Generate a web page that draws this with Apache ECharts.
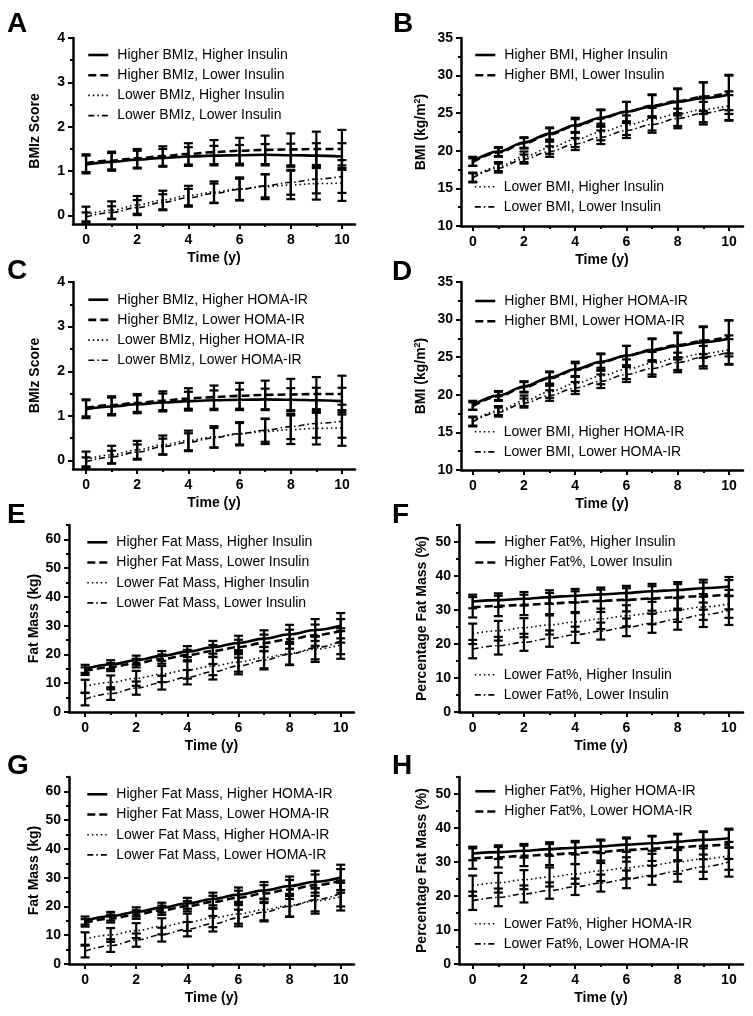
<!DOCTYPE html>
<html><head><meta charset="utf-8">
<script src="https://cdn.jsdelivr.net/npm/echarts@6/dist/echarts.min.js"></script>
<style>html,body{margin:0;padding:0;background:#fff}#c{width:753px;height:1016px}</style>
</head><body><div id="c"></div>
<script>
// ---------- tick labels ----------
const time = [0,1,2,3,4,5,6,7,8,9,10];
const xMajorTicks = [0,2,4,6,8,10];
const xMinorTicks = [1,3,5,7,9];
const bmizTicks = [0,1,2,3,4];
const bmizMinor = [0.5,1.5,2.5,3.5];
const bmiTicks = [10,15,20,25,30,35];
const bmiMinor = [12.5,17.5,22.5,27.5,32.5];
const fatMassTicks = [0,10,20,30,40,50,60];
const fatMassMinor = [5,15,25,35,45,55,65];
const fatPctTicks = [0,10,20,30,40,50];
const fatPctMinor = [5,15,25,35,45,55];

// ---------- series names ----------
const namesA = ['Higher BMIz, Higher Insulin','Higher BMIz, Lower Insulin','Lower BMIz, Higher Insulin','Lower BMIz, Lower Insulin'];
const namesB = ['Higher BMI, Higher Insulin','Higher BMI, Lower Insulin','Lower BMI, Higher Insulin','Lower BMI, Lower Insulin'];
const namesC = ['Higher BMIz, Higher HOMA-IR','Higher BMIz, Lower HOMA-IR','Lower BMIz, Higher HOMA-IR','Lower BMIz, Lower HOMA-IR'];
const namesD = ['Higher BMI, Higher HOMA-IR','Higher BMI, Lower HOMA-IR','Lower BMI, Higher HOMA-IR','Lower BMI, Lower HOMA-IR'];
const namesE = ['Higher Fat Mass, Higher Insulin','Higher Fat Mass, Lower Insulin','Lower Fat Mass, Higher Insulin','Lower Fat Mass, Lower Insulin'];
const namesF = ['Higher Fat%, Higher Insulin','Higher Fat%, Lower Insulin','Lower Fat%, Higher Insulin','Lower Fat%, Lower Insulin'];
const namesG = ['Higher Fat Mass, Higher HOMA-IR','Higher Fat Mass, Lower HOMA-IR','Lower Fat Mass, Higher HOMA-IR','Lower Fat Mass, Lower HOMA-IR'];
const namesH = ['Higher Fat%, Higher HOMA-IR','Higher Fat%, Lower HOMA-IR','Lower Fat%, Higher HOMA-IR','Lower Fat%, Lower HOMA-IR'];

// ---------- values (mean) and error half-widths ----------
const A_HH = [1.15,1.21,1.26,1.30,1.33,1.35,1.36,1.37,1.36,1.35,1.33];
const A_HH_err = [0.20,0.20,0.20,0.20,0.21,0.22,0.23,0.24,0.26,0.28,0.30];
const A_HL = [1.18,1.24,1.29,1.34,1.39,1.43,1.46,1.48,1.49,1.50,1.50];
const A_HL_err = [0.20,0.20,0.21,0.22,0.24,0.27,0.29,0.32,0.36,0.39,0.43];
const A_LH = [0.02,0.12,0.24,0.35,0.45,0.53,0.60,0.65,0.69,0.72,0.73];
const A_LH_err = [0.18,0.20,0.20,0.21,0.22,0.24,0.26,0.28,0.32,0.36,0.40];
const A_LL = [-0.03,0.07,0.18,0.30,0.40,0.50,0.59,0.67,0.75,0.82,0.88];
const A_LL_err = [0.10,0.14,0.17,0.18,0.20,0.22,0.24,0.26,0.28,0.32,0.37];

const B_HH = [18.6,19.9,21.1,22.3,23.4,24.4,25.2,25.9,26.5,27.0,27.5];
const B_HH_err = [0.6,0.6,0.7,0.8,1.0,1.1,1.3,1.5,1.8,2.1,2.6];
const B_HL = [18.5,19.8,21.0,22.2,23.3,24.3,25.2,26.0,26.6,27.2,27.7];
const B_HL_err = [0.5,0.6,0.7,0.8,0.9,1.1,1.3,1.5,1.6,1.9,2.3];
const B_LH = [16.5,17.9,19.2,20.4,21.5,22.5,23.4,24.2,24.9,25.5,26.0];
const B_LH_err = [0.6,0.6,0.7,0.8,1.0,1.1,1.3,1.5,1.6,1.7,1.9];
const B_LL = [16.4,17.7,18.9,19.9,20.9,21.8,22.7,23.5,24.3,25.0,25.7];
const B_LL_err = [0.6,0.6,0.6,0.7,0.8,0.9,1.0,1.1,1.3,1.5,1.7];

const C_HH = [1.15,1.21,1.26,1.30,1.33,1.35,1.36,1.37,1.36,1.35,1.33];
const C_HH_err = [0.20,0.20,0.20,0.20,0.21,0.22,0.23,0.24,0.26,0.28,0.30];
const C_HL = [1.18,1.24,1.29,1.34,1.39,1.42,1.45,1.47,1.48,1.49,1.49];
const C_HL_err = [0.19,0.20,0.20,0.21,0.23,0.26,0.29,0.32,0.35,0.38,0.41];
const C_LH = [0.02,0.13,0.24,0.35,0.45,0.53,0.60,0.65,0.69,0.72,0.73];
const C_LH_err = [0.18,0.20,0.20,0.21,0.22,0.24,0.26,0.28,0.32,0.36,0.40];
const C_LL = [-0.03,0.08,0.19,0.31,0.41,0.51,0.60,0.68,0.76,0.83,0.88];
const C_LL_err = [0.10,0.14,0.17,0.18,0.20,0.22,0.24,0.26,0.28,0.32,0.37];

const D_HH = [18.6,19.9,21.1,22.3,23.4,24.4,25.2,25.9,26.5,27.0,27.5];
const D_HH_err = [0.6,0.6,0.7,0.8,1.0,1.1,1.3,1.5,1.8,2.1,2.4];
const D_HL = [18.5,19.8,21.0,22.2,23.3,24.3,25.2,26.0,26.6,27.2,27.7];
const D_HL_err = [0.5,0.6,0.7,0.8,0.9,1.1,1.3,1.5,1.6,1.8,2.2];
const D_LH = [16.5,17.9,19.2,20.4,21.5,22.5,23.4,24.2,24.9,25.5,26.0];
const D_LH_err = [0.6,0.6,0.7,0.8,1.0,1.1,1.3,1.5,1.6,1.7,1.9];
const D_LL = [16.4,17.7,18.9,19.9,20.9,21.8,22.7,23.5,24.3,25.0,25.7];
const D_LL_err = [0.6,0.6,0.6,0.7,0.8,0.9,1.0,1.1,1.3,1.5,1.7];

const E_HH = [15.0,16.5,18.0,19.5,21.0,22.5,24.0,25.5,27.0,28.5,30.0];
const E_HH_err = [1.4,1.5,1.6,1.7,1.9,2.2,2.5,2.9,3.3,3.8,4.4];
const E_HL = [14.2,15.6,17.0,18.4,19.8,21.2,22.6,24.0,25.3,26.7,28.2];
const E_HL_err = [1.3,1.4,1.5,1.6,1.8,2.1,2.5,2.9,3.3,3.7,4.1];
const E_LH = [8.9,10.3,11.7,13.2,14.6,16.0,17.4,18.9,20.3,21.8,23.3];
const E_LH_err = [2.3,2.4,2.6,2.8,3.0,3.2,3.4,3.7,4.0,4.4,4.8];
const E_LL = [4.5,6.4,8.3,10.2,12.1,14.0,16.0,18.0,20.1,22.3,24.6];
const E_LL_err = [2.2,2.2,2.3,2.4,2.5,2.7,2.9,3.2,3.6,4.0,4.5];

const F_HH = [32.5,32.9,33.3,33.8,34.2,34.6,35.0,35.5,35.9,36.4,36.9];
const F_HH_err = [2.0,2.0,2.0,2.0,2.0,2.0,2.1,2.2,2.3,2.5,2.8];
const F_HL = [30.8,31.2,31.5,31.9,32.3,32.7,33.0,33.4,33.8,34.1,34.5];
const F_HL_err = [3.0,3.0,3.0,3.1,3.2,3.3,3.4,3.6,3.8,4.0,4.3];
const F_LH = [23.0,23.9,24.8,25.6,26.5,27.4,28.3,29.1,30.0,30.9,31.8];
const F_LH_err = [3.0,2.9,2.8,2.8,2.9,3.0,3.1,3.3,3.5,3.8,4.1];
const F_LL = [18.5,19.5,20.5,21.6,22.7,23.8,24.9,26.1,27.3,28.6,29.9];
const F_LL_err = [2.7,2.6,2.5,2.4,2.4,2.5,2.6,2.8,3.1,3.6,4.3];

const G_HH = [15.1,16.6,18.1,19.6,21.1,22.6,24.1,25.6,27.1,28.6,30.1];
const G_HH_err = [1.4,1.5,1.6,1.7,1.9,2.2,2.5,2.9,3.3,3.8,4.4];
const G_HL = [14.3,15.8,17.2,18.7,20.1,21.6,23.0,24.5,25.9,27.4,28.9];
const G_HL_err = [1.3,1.4,1.5,1.6,1.8,2.1,2.5,2.9,3.3,3.7,4.1];
const G_LH = [8.7,10.1,11.6,13.1,14.5,16.0,17.4,18.9,20.4,21.9,23.4];
const G_LH_err = [2.3,2.4,2.6,2.8,3.0,3.2,3.4,3.7,4.0,4.4,4.8];
const G_LL = [4.5,6.4,8.3,10.2,12.1,14.0,16.0,18.0,20.1,22.3,24.5];
const G_LL_err = [2.2,2.2,2.3,2.4,2.5,2.7,2.9,3.2,3.6,4.0,4.5];

const H_HH = [32.5,32.9,33.3,33.8,34.2,34.6,35.1,35.5,36.0,36.5,37.0];
const H_HH_err = [2.0,2.0,2.0,2.0,2.0,2.0,2.1,2.2,2.3,2.5,2.8];
const H_HL = [31.0,31.4,31.8,32.2,32.6,33.0,33.5,33.9,34.3,34.8,35.2];
const H_HL_err = [3.0,3.0,3.0,3.1,3.2,3.3,3.4,3.6,3.8,4.0,4.3];
const H_LH = [23.0,23.9,24.8,25.6,26.5,27.4,28.3,29.1,30.0,30.9,31.8];
const H_LH_err = [3.0,2.9,2.8,2.8,2.9,3.0,3.1,3.3,3.5,3.8,4.1];
const H_LL = [18.6,19.6,20.6,21.6,22.7,23.8,24.9,26.1,27.3,28.6,30.0];
const H_LL_err = [2.7,2.6,2.5,2.4,2.4,2.5,2.6,2.8,3.1,3.6,4.3];

// ---------- layout ----------
const FONT = '"Liberation Sans", Arial, Helvetica, sans-serif';
const lineStyles = [
  {type:'solid', width:2.6},
  {type:[8,4], width:2.6},
  {type:[1.5,3], width:1.6},
  {type:[6,3,1.5,3], width:1.6}
];
const panels = [
  {id:'A', grid:{left:73, top:38, width:282, height:186}, x:[-0.51,10.51], y:[-0.19,4], yMajor:bmizTicks, yMinor:bmizMinor,
   yName:'BMIz Score', yGap:31, names:namesA, vals:[A_HH,A_HL,A_LH,A_LL], errs:[A_HH_err,A_HL_err,A_LH_err,A_LL_err],
   legends:[{left:87, top:48, idx:[0,1,2,3]}], letter:{left:7, top:10}},
  {id:'B', grid:{left:461, top:38, width:282, height:188}, x:[-0.46,10.55], y:[10,35], yMajor:bmiTicks, yMinor:bmiMinor,
   yName:'BMI (kg/m{sup|2})', yGap:32, names:namesB, vals:[B_HH,B_HL,B_LH,B_LL], errs:[B_HH_err,B_HL_err,B_LH_err,B_LL_err],
   legends:[{left:474, top:48, idx:[0,1]},{left:474, top:179.7, idx:[2,3]}], letter:{left:393, top:10}},
  {id:'C', grid:{left:73, top:282, width:282, height:187}, x:[-0.51,10.51], y:[-0.19,4], yMajor:bmizTicks, yMinor:bmizMinor,
   yName:'BMIz Score', yGap:31, names:namesC, vals:[C_HH,C_HL,C_LH,C_LL], errs:[C_HH_err,C_HL_err,C_LH_err,C_LL_err],
   legends:[{left:87, top:292.7, idx:[0,1,2,3]}], letter:{left:7, top:257}},
  {id:'D', grid:{left:461, top:282, width:282, height:188}, x:[-0.46,10.55], y:[10,35], yMajor:bmiTicks, yMinor:bmiMinor,
   yName:'BMI (kg/m{sup|2})', yGap:32, names:namesD, vals:[D_HH,D_HL,D_LH,D_LL], errs:[D_HH_err,D_HL_err,D_LH_err,D_LL_err],
   legends:[{left:474, top:294, idx:[0,1]},{left:474, top:424.7, idx:[2,3]}], letter:{left:392, top:258}},
  {id:'E', grid:{left:69, top:525, width:285, height:187}, x:[-0.63,10.52], y:[0,65], yMajor:fatMassTicks, yMinor:fatMassMinor,
   yName:'Fat Mass (kg)', yGap:28, names:namesE, vals:[E_HH,E_HL,E_LH,E_LL], errs:[E_HH_err,E_HL_err,E_LH_err,E_LL_err],
   legends:[{left:86, top:535.3, idx:[0,1,2,3]}], letter:{left:7, top:501}},
  {id:'F', grid:{left:459, top:525, width:284, height:187}, x:[-0.535,10.55], y:[0,55], yMajor:fatPctTicks, yMinor:fatPctMinor,
   yName:'Percentage Fat Mass (%)', yGap:30, names:namesF, vals:[F_HH,F_HL,F_LH,F_LL], errs:[F_HH_err,F_HL_err,F_LH_err,F_LL_err],
   legends:[{left:474, top:535.3, idx:[0,1]},{left:474, top:667.7, idx:[2,3]}], letter:{left:392, top:501}},
  {id:'G', grid:{left:69, top:777, width:285, height:187}, x:[-0.63,10.52], y:[0,65], yMajor:fatMassTicks, yMinor:fatMassMinor,
   yName:'Fat Mass (kg)', yGap:28, names:namesG, vals:[G_HH,G_HL,G_LH,G_LL], errs:[G_HH_err,G_HL_err,G_LH_err,G_LL_err],
   legends:[{left:86, top:787.3, idx:[0,1,2,3]}], letter:{left:7, top:752}},
  {id:'H', grid:{left:459, top:777, width:284, height:187}, x:[-0.535,10.55], y:[0,55], yMajor:fatPctTicks, yMinor:fatPctMinor,
   yName:'Percentage Fat Mass (%)', yGap:30, names:namesH, vals:[H_HH,H_HL,H_LH,H_LL], errs:[H_HH_err,H_HL_err,H_LH_err,H_LL_err],
   legends:[{left:474, top:784.3, idx:[0,1]},{left:474, top:916.7, idx:[2,3]}], letter:{left:392, top:752}}
];

function renderErr(params, api) {
  const x = api.value(0), m = api.value(1), h = api.value(2);
  const top = api.coord([x, m + h]);
  const bot = api.coord([x, m - h]);
  const w = 4.5;
  const st = {stroke:'#000', lineWidth:2.2};
  return {type:'group', children:[
    {type:'line', shape:{x1:top[0], y1:top[1], x2:bot[0], y2:bot[1]}, style:st},
    {type:'line', shape:{x1:top[0]-w, y1:top[1], x2:top[0]+w, y2:top[1]}, style:st},
    {type:'line', shape:{x1:bot[0]-w, y1:bot[1], x2:bot[0]+w, y2:bot[1]}, style:st}
  ]};
}

const labelStyle = {color:'#000', fontFamily:FONT, fontSize:14, fontWeight:'bold'};
const option = {animation:false, backgroundColor:'#fff', title:[], grid:[], xAxis:[], yAxis:[], legend:[], series:[]};

panels.forEach((p, gi) => {
  option.grid.push(Object.assign({containLabel:false}, p.grid));
  option.title.push({text:p.id, left:p.letter.left, top:p.letter.top, padding:0,
    textStyle:{fontSize:28, fontWeight:'bold', fontFamily:FONT, color:'#000'}});
  const xb = {type:'value', gridIndex:gi, min:p.x[0], max:p.x[1], position:'bottom', splitLine:{show:false}};
  option.xAxis.push(Object.assign({}, xb, {
    axisLine:{show:true, onZero:false, lineStyle:{color:'#000', width:2.5}},
    axisTick:{show:true, customValues:xMajorTicks, length:5, lineStyle:{color:'#000', width:2}},
    axisLabel:Object.assign({show:true, customValues:xMajorTicks, margin:9}, labelStyle),
    name:'Time (y)', nameLocation:'middle', nameGap:27, nameTextStyle:Object.assign({}, labelStyle)
  }));
  option.xAxis.push(Object.assign({}, xb, {
    axisLine:{show:false, onZero:false},
    axisTick:{show:true, customValues:xMinorTicks, length:3, lineStyle:{color:'#000', width:2}},
    axisLabel:{show:false}
  }));
  const yb = {type:'value', gridIndex:gi, min:p.y[0], max:p.y[1], position:'left', splitLine:{show:false}};
  option.yAxis.push(Object.assign({}, yb, {
    axisLine:{show:true, onZero:false, lineStyle:{color:'#000', width:2.5}},
    axisTick:{show:true, customValues:p.yMajor, length:5, lineStyle:{color:'#000', width:2}},
    axisLabel:Object.assign({show:true, customValues:p.yMajor, margin:8}, labelStyle),
    name:p.yName, nameLocation:'middle', nameRotate:90, nameGap:p.yGap,
    nameTextStyle:Object.assign({}, labelStyle, {rich:{sup:{fontSize:9, fontWeight:'bold', fontFamily:FONT, color:'#000', padding:[0,0,7,0]}}})
  }));
  option.yAxis.push(Object.assign({}, yb, {
    axisLine:{show:false, onZero:false},
    axisTick:{show:true, customValues:p.yMinor, length:3, lineStyle:{color:'#000', width:2}},
    axisLabel:{show:false}
  }));
  p.names.forEach((nm, k) => {
    option.series.push({
      type:'line', name:nm, xAxisIndex:2*gi, yAxisIndex:2*gi, smooth:0.35, smoothMonotone:'x',
      symbol:'none', data:time.map((t, j) => [t, p.vals[k][j]]),
      lineStyle:Object.assign({color:'#000', cap:'butt'}, lineStyles[k]), itemStyle:{color:'#000'}, z:3
    });
    option.series.push({
      type:'custom', name:p.id + ' err ' + k, xAxisIndex:2*gi, yAxisIndex:2*gi, renderItem:renderErr,
      data:time.map((t, j) => [t, p.vals[k][j], p.errs[k][j]]), encode:{x:0, y:1}, z:2, silent:true
    });
  });
  p.legends.forEach(lg => {
    option.legend.push({
      left:lg.left, top:lg.top, orient:'vertical', itemWidth:20, itemHeight:14, itemGap:6.2, padding:0,
      selectedMode:false, data:lg.idx.map(k => p.names[k]),
      textStyle:{color:'#000', fontFamily:FONT, fontSize:14, padding:[0,0,0,4]},
      lineStyle:{width:'inherit'}, itemStyle:{opacity:0}
    });
  });
});

const chart = echarts.init(document.getElementById('c'), null, {renderer:'canvas', width:753, height:1016});
chart.setOption(option);
</script>
</body></html>
